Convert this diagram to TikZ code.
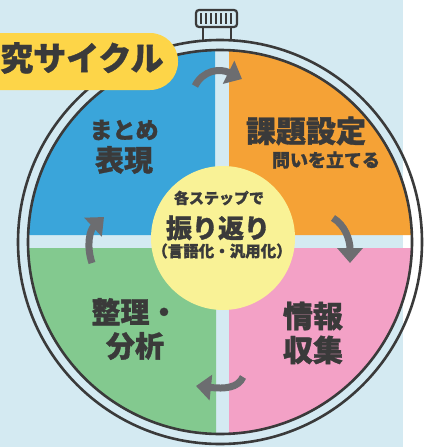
\documentclass[tikz,border=0pt]{standalone}
\usepackage{fontspec}
\setmainfont{Noto Sans CJK JP}[BoldFeatures={FakeBold=1.2}]
\usepackage{tikz}
\usetikzlibrary{arrows.meta}

\definecolor{bgblue}{HTML}{D4EAF2}
\definecolor{qblue}{HTML}{3AA5DA}
\definecolor{qorange}{HTML}{F5A236}
\definecolor{qpink}{HTML}{F3A1C6}
\definecolor{qgreen}{HTML}{83C98F}
\definecolor{pillyellow}{HTML}{FDD548}
\definecolor{hubyellow}{HTML}{F9F296}
\definecolor{ink}{HTML}{3A3A3A}
\definecolor{arrowgray}{HTML}{6C6D70}

\begin{document}
\begin{tikzpicture}[x=1pt, y=-1pt,
	ring/.style={draw=ink, line width=2.6pt},
	swoosh/.style={draw=arrowgray, line width=7pt, -{Triangle[length=15pt, width=25pt]}},
	label/.style={text=ink, font=\bfseries, inner sep=0pt, align=center}]
	\useasboundingbox (0, 0) rectangle (435, 447);
	\fill[bgblue] (0, 0) rectangle (403, 447);

	\coordinate (c) at (220, 242);
	\begin{scope}
		\clip (c) circle (192);
		\fill[qblue, rounded corners=4pt] (-10, 0) rectangle (215, 235);
		\fill[qorange, rounded corners=4pt] (229, 0) rectangle (445, 235);
		\fill[qpink, rounded corners=4pt] (229, 248) rectangle (445, 460);
		\fill[qgreen, rounded corners=4pt] (-10, 248) rectangle (216, 460);
	\end{scope}

	\draw[ring] (c) circle (202);
	\draw[ring] (c) circle (192);

	\draw[ring, line width=2.2pt] (203, 26) -- (203, 40);
	\draw[ring, line width=2.2pt] (231, 26) -- (231, 40);
	\draw[ring, line width=2.2pt, fill=bgblue, rounded corners=3pt] (196, 10) rectangle (237, 27);
	\foreach \x in {201, 206, ..., 232}
		\draw[ink, line width=1.4pt] (\x, 13) -- (\x, 24);

	\fill[pillyellow, rounded corners=28pt] (-60, 33) rectangle (178, 90);
	\node[label, anchor=west, font=\bfseries\fontsize{33}{33}\selectfont] (title) at (0, 58) {究サイクル};

	\fill[hubyellow] (223, 238) circle (72);
	\node[label, font=\bfseries\fontsize{15}{15}\selectfont] (hub1) at (219, 198) {各ステップで};
	\node[label, font=\bfseries\fontsize{26}{26}\selectfont] (hub2) at (218, 228) {振り返り};
	\node[label, font=\bfseries\fontsize{15.5}{15.5}\selectfont] (hub3) at (222, 251) {（言語化・汎用化）};

	\node[label, font=\bfseries\fontsize{23}{23}\selectfont] (matome) at (124, 130) {まとめ};
	\node[label, font=\bfseries\fontsize{29}{29}\selectfont] (hyogen) at (124, 160) {表現};
	\node[label, font=\bfseries\fontsize{30}{30}\selectfont] (kadai) at (306, 131) {課題設定};
	\node[label, font=\bfseries\fontsize{18}{18}\selectfont] (toi) at (326, 160) {問いを立てる};
	\node[label, font=\bfseries\fontsize{30}{34}\selectfont] (joho) at (313, 333) {情報\\収集};
	\node[label, font=\bfseries\fontsize{29}{34}\selectfont] (seiri) at (135, 329) {整理・\\分析};

	\coordinate (p1s) at (195, 86);
	\coordinate (p1e) at (242, 79);
	\coordinate (p2s) at (333, 218);
	\coordinate (p2e) at (350, 263);
	\coordinate (p3s) at (243, 377);
	\coordinate (p3e) at (196, 386);
	\coordinate (p4s) at (92, 263);
	\coordinate (p4e) at (104, 217);

	\draw[swoosh] (p1s) .. controls (203, 70) and (220, 68) .. (p1e);
	\draw[swoosh] (p2s) .. controls (345, 225) and (350, 240) .. (p2e);
	\draw[swoosh] (p3s) .. controls (238, 388) and (225, 389) .. (p3e);
	\draw[swoosh] (p4s) .. controls (86, 245) and (90, 230) .. (p4e);
\end{tikzpicture}
\end{document}
